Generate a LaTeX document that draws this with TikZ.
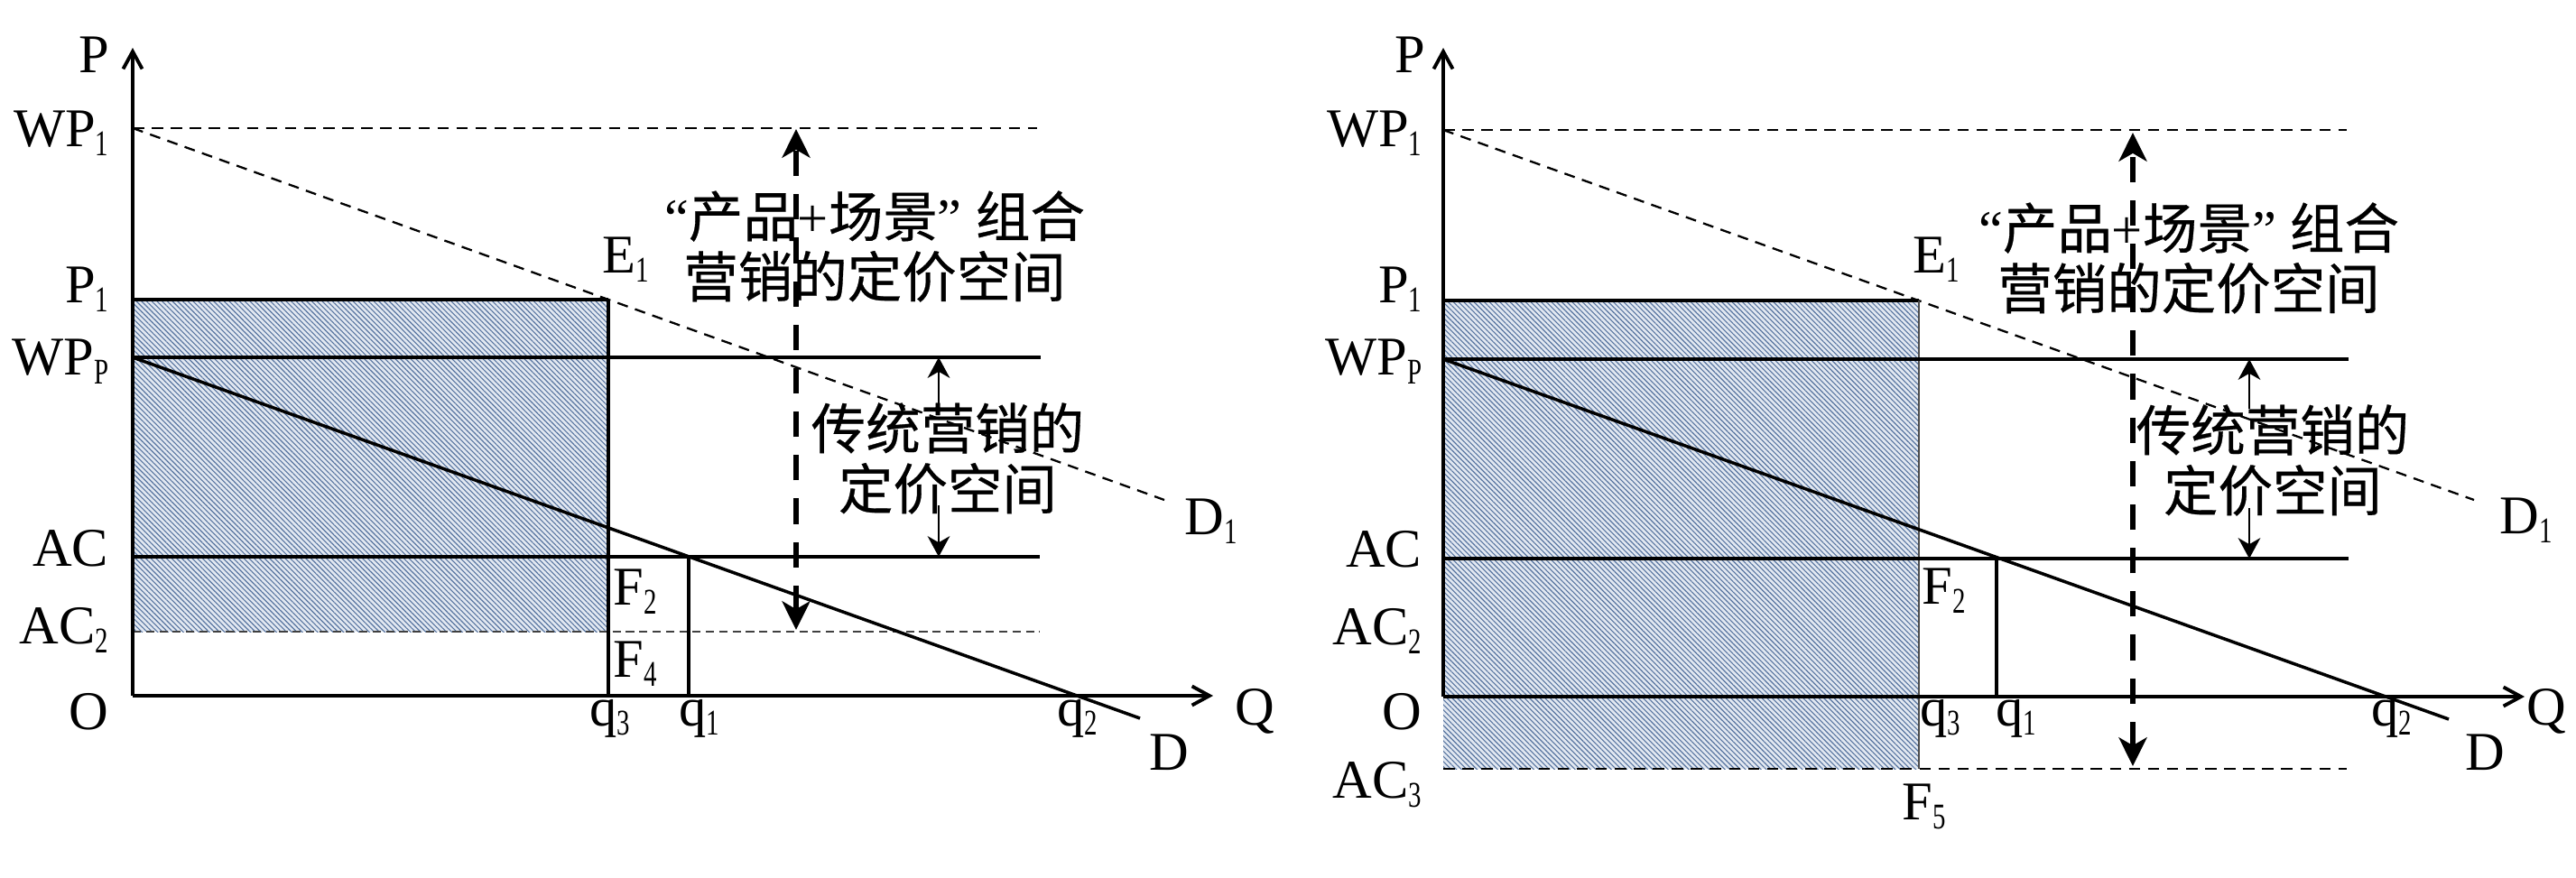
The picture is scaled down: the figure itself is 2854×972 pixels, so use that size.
\documentclass[tikz,border=0pt]{standalone}
\usepackage{fontspec}
\setmainfont{Liberation Serif}
\newfontfamily\cjk[UprightFeatures={FakeBold=0.5}]{Noto Sans CJK SC}
\usetikzlibrary{arrows.meta,patterns.meta}
\definecolor{hatchbg}{HTML}{E2E8F1}
\definecolor{hatchfg}{HTML}{56739F}
\newcommand\sbs[1]{\raisebox{-3pt}{\scalebox{0.72}[1]{\fontsize{11.4}{12}\selectfont #1}}}
\tikzset{
  lbl/.style={inner sep=0pt, font=\fontsize{17.2}{19}\selectfont},
  cn/.style={inner sep=0pt, align=center, font=\fontsize{17.2}{19}\selectfont},
  axisln/.style={line width=1.25pt, -{Straight Barb[length=5.5pt,width=6pt,line width=1.1pt]}},
  heavyln/.style={line width=1.15pt},
  midln/.style={line width=0.9pt},
  edgeln/.style={line width=0.6pt, black!70},
  demandln/.style={line width=1pt},
  dashln/.style={line width=0.75pt, dash pattern=on 3.6pt off 2.4pt},
  dashthin/.style={line width=0.65pt, dash pattern=on 3.4pt off 2.4pt},
  acdash/.style={line width=0.6pt, black!75, dash pattern=on 2.6pt off 1.6pt},
  bigarr/.style={line width=1.6pt, dash pattern=on 8pt off 5.7pt, {Stealth[length=9pt,width=8.8pt,inset=2.5pt]}-{Stealth[length=9pt,width=8.8pt,inset=2.5pt]}},
  smarr/.style={line width=0.7pt, -{Stealth[length=6.5pt,width=7pt,inset=2pt]}},
  shade/.style={fill=hatchbg, postaction={pattern={Lines[angle=-45,distance=1.15pt,line width=0.32pt]}, pattern color=hatchfg}}
}
\begin{document}
\begin{tikzpicture}[x=0.01cm,y=-0.01cm]
\useasboundingbox (0,0) rectangle (2854,972);
% ===== left panel coordinates
\coordinate (LO) at (147,771);
\coordinate (LPt) at (147,53);
\coordinate (LQt) at (1344,771);
\coordinate (LW1) at (147,142);
\coordinate (LW1e) at (1149,142);
\coordinate (LD1e) at (1290,554);
\coordinate (LP1) at (147,332);
\coordinate (LE) at (674,332);
\coordinate (LWP) at (147,396);
\coordinate (LWPe) at (1153,396);
\coordinate (LAC) at (147,617);
\coordinate (LACe) at (1152,617);
\coordinate (LAC2) at (147,700);
\coordinate (LAC2e) at (1152,700);
\coordinate (LF) at (674,700);
\coordinate (Lq3) at (674,771);
\coordinate (Lq1t) at (763,617);
\coordinate (Lq1) at (763,771);
\coordinate (LDe) at (1263,796);
\coordinate (LbT) at (882,143);
\coordinate (LbB) at (882,698);
\coordinate (LsT) at (1040,396);
\coordinate (LsTs) at (1040,447);
\coordinate (LsB) at (1040,617);
\coordinate (LsBs) at (1040,560);
% ===== right panel coordinates
\coordinate (RO) at (1599,772);
\coordinate (RPt) at (1599,53);
\coordinate (RQt) at (2797,772);
\coordinate (RW1) at (1599,144);
\coordinate (RW1e) at (2600,144);
\coordinate (RD1e) at (2741,554);
\coordinate (RP1) at (1599,333);
\coordinate (RE) at (2126,333);
\coordinate (RWP) at (1599,398);
\coordinate (RWPe) at (2602,398);
\coordinate (RAC) at (1599,619);
\coordinate (RACe) at (2602,619);
\coordinate (RAC3) at (1599,852);
\coordinate (RAC3e) at (2600,852);
\coordinate (RF5) at (2126,852);
\coordinate (Rq1t) at (2212,619);
\coordinate (Rq1) at (2212,772);
\coordinate (RDe) at (2713,797);
\coordinate (RbT) at (2363,147);
\coordinate (RbB) at (2363,849);
\coordinate (RsT) at (2492,398);
\coordinate (RsTs) at (2492,453);
\coordinate (RsB) at (2492,619);
\coordinate (RsBs) at (2492,563);
% ===== shaded areas
\path[shade] (LP1) rectangle (LF);
\path[shade] (RP1) rectangle (RF5);
% ===== left panel lines
\draw[dashln] (LW1) -- (LW1e);
\draw[dashthin] (LW1) -- (LD1e);
\draw[midln] (LP1) -- (LE);
\draw[heavyln] (LWP) -- (LWPe);
\draw[heavyln] (LAC) -- (LACe);
\draw[acdash] (LAC2) -- (LAC2e);
\draw[midln] (LE) -- (Lq3);
\draw[midln] (Lq1t) -- (Lq1);
\draw[demandln] (LWP) -- (LDe);
\draw[axisln] (LO) -- (LPt);
\draw[axisln] (LO) -- (LQt);
\draw[bigarr] (LbB) -- (LbT);
\draw[smarr] (LsTs) -- (LsT);
\draw[smarr] (LsBs) -- (LsB);
% ===== right panel lines
\draw[dashln] (RW1) -- (RW1e);
\draw[dashthin] (RW1) -- (RD1e);
\draw[midln] (RP1) -- (RE);
\draw[edgeln] (RE) -- (RF5);
\draw[heavyln] (RWP) -- (RWPe);
\draw[heavyln] (RAC) -- (RACe);
\draw[dashln] (RAC3) -- (RAC3e);
\draw[midln] (Rq1t) -- (Rq1);
\draw[demandln] (RWP) -- (RDe);
\draw[axisln] (RO) -- (RPt);
\draw[axisln] (RO) -- (RQt);
\draw[bigarr] (RbB) -- (RbT);
\draw[smarr] (RsTs) -- (RsT);
\draw[smarr] (RsBs) -- (RsB);
% ===== left labels
\node[lbl,anchor=base] (lP) at (104,80) {P};
\node[lbl,anchor=base east] (lWP1) at (121,162) {WP\sbs{1}};
\node[lbl,anchor=base east] (lP1) at (121,335) {P\sbs{1}};
\node[lbl,anchor=base east] (lWPP) at (121,415) {WP\sbs{P}};
\node[lbl,anchor=base east] (lAC) at (121,627) {AC};
\node[lbl,anchor=base east] (lAC2) at (121,713) {AC\sbs{2}};
\node[lbl,anchor=base east] (lO) at (121,808) {O};
\node[lbl,anchor=base west] (lE1) at (667,302) {E\sbs{1}};
\node[lbl,anchor=base west] (lF2) at (679,670) {F\sbs{2}};
\node[lbl,anchor=base west] (lF4) at (679,750) {F\sbs{4}};
\node[lbl,anchor=base] (lq3) at (676,804) {q\sbs{3}};
\node[lbl,anchor=base] (lq1) at (775,804) {q\sbs{1}};
\node[lbl,anchor=base] (lq2) at (1194,804) {q\sbs{2}};
\node[lbl,anchor=base] (lD) at (1295,853) {D};
\node[lbl,anchor=base west] (lD1) at (1312,592) {D\sbs{1}};
\node[lbl,anchor=base] (lQ) at (1390,803) {Q};
\node[cn] (lT1) at (969,273) {“{\cjk 产品}+{\cjk 场景}” {\cjk 组合}\\{\cjk 营销的定价空间}};
\node[cn] (lT2) at (1050,508) {{\cjk 传统营销的}\\{\cjk 定价空间}};
% ===== right labels
\node[lbl,anchor=base] (rP) at (1562,80) {P};
\node[lbl,anchor=base east] (rWP1) at (1576,162) {WP\sbs{1}};
\node[lbl,anchor=base east] (rP1) at (1576,335) {P\sbs{1}};
\node[lbl,anchor=base east] (rWPP) at (1576,415) {WP\sbs{P}};
\node[lbl,anchor=base east] (rAC) at (1576,628) {AC};
\node[lbl,anchor=base east] (rAC2) at (1576,714) {AC\sbs{2}};
\node[lbl,anchor=base east] (rO) at (1576,808) {O};
\node[lbl,anchor=base east] (rAC3) at (1576,884) {AC\sbs{3}};
\node[lbl,anchor=base west] (rE1) at (2119,302) {E\sbs{1}};
\node[lbl,anchor=base west] (rF2) at (2129,669) {F\sbs{2}};
\node[lbl,anchor=base west] (rF5) at (2107,908) {F\sbs{5}};
\node[lbl,anchor=base] (rq3) at (2150,804) {q\sbs{3}};
\node[lbl,anchor=base] (rq1) at (2234,804) {q\sbs{1}};
\node[lbl,anchor=base] (rq2) at (2650,804) {q\sbs{2}};
\node[lbl,anchor=base] (rD) at (2753,853) {D};
\node[lbl,anchor=base west] (rD1) at (2769,591) {D\sbs{1}};
\node[lbl,anchor=base] (rQ) at (2821,803) {Q};
\node[cn] (rT1) at (2425,286) {“{\cjk 产品}+{\cjk 场景}” {\cjk 组合}\\{\cjk 营销的定价空间}};
\node[cn] (rT2) at (2518,510) {{\cjk 传统营销的}\\{\cjk 定价空间}};
\end{tikzpicture}
\end{document}
